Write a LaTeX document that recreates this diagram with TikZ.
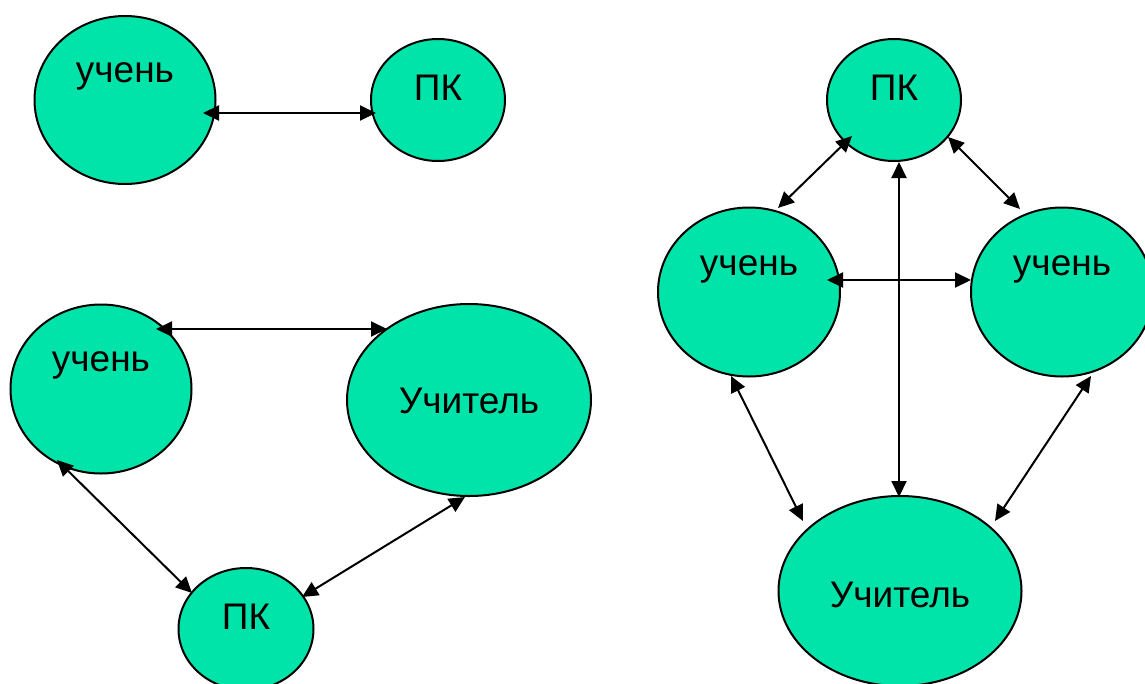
\documentclass[tikz,border=0pt]{standalone}
\usepackage{fontspec}
\setmainfont{Liberation Sans}
\usetikzlibrary{arrows.meta,shapes.geometric}
\definecolor{mint}{RGB}{0,228,170}
\begin{document}
\begin{tikzpicture}[x=1pt,y=-1pt,
  bubble/.style={ellipse,draw,line width=2pt,fill=mint,inner sep=0pt},
  word/.style={anchor=base,inner sep=0pt,font=\fontsize{37}{42}\selectfont},
  link/.style={line width=2pt,{Triangle[length=16pt,width=15pt]}-{Triangle[length=16pt,width=15pt]}}]
\useasboundingbox(0,0)rectangle(1145,683);
\clip(0,0)rectangle(1145,683);
% pupil and computer
\node[bubble,minimum width=181,minimum height=168](u1)at(125,100){};
\node[bubble,minimum width=134,minimum height=122](p1)at(438,100){};
\node[word](u1t)at([yshift=18]u1.center){учень};
\node[word](p1t)at(p1.center){ПК};
\draw[link]([shift={(78,13)}]u1.center)--([shift={(-62,13)}]p1.center);
% pupil, teacher and computer
\node[bubble,minimum width=181,minimum height=169](u2)at(101,389){};
\node[bubble,minimum width=244,minimum height=192](t1)at(469,400){};
\node[bubble,minimum width=135,minimum height=122](p2)at(246,629){};
\node[word](u2t)at([yshift=18]u2.center){учень};
\node[word](t1t)at([yshift=-13]t1.center){Учитель};
\node[word](p2t)at(p2.center){ПК};
\draw[link]([shift={(55,-60)}]u2.center)--([shift={(-82,-71)}]t1.center);
\draw[link]([shift={(-44,71)}]u2.center)--([shift={(-54,-36)}]p2.center);
\draw[link]([shift={(-4,97)}]t1.center)--([shift={(56,-32)}]p2.center);
% two pupils, teacher and computer
\node[bubble,minimum width=134,minimum height=122](p3)at(894,100){};
\node[bubble,minimum width=182,minimum height=169](u3)at(749,292){};
\node[bubble,minimum width=182,minimum height=169](u4)at(1062,292){};
\node[bubble,minimum width=243,minimum height=190](t2)at(900,591){};
\node[word](p3t)at(p3.center){ПК};
\node[word](u3t)at([yshift=17]u3.center){учень};
\node[word](u4t)at([yshift=17]u4.center){учень};
\node[word](t2t)at([yshift=-16]t2.center){Учитель};
\draw[link]([shift={(-42,36)}]p3.center)--([shift={(29,-84)}]u3.center);
\draw[link]([shift={(54,37)}]p3.center)--([shift={(-42,-83)}]u4.center);
\draw[link]([shift={(5,62)}]p3.center)--([shift={(-1,-94)}]t2.center);
\draw[link]([shift={(78,-12)}]u3.center)--([shift={(-91,-12)}]u4.center);
\draw[link]([shift={(-18,84)}]u3.center)--([shift={(-97,-70)}]t2.center);
\draw[link]([shift={(29,84)}]u4.center)--([shift={(95,-70)}]t2.center);
\end{tikzpicture}
\end{document}
